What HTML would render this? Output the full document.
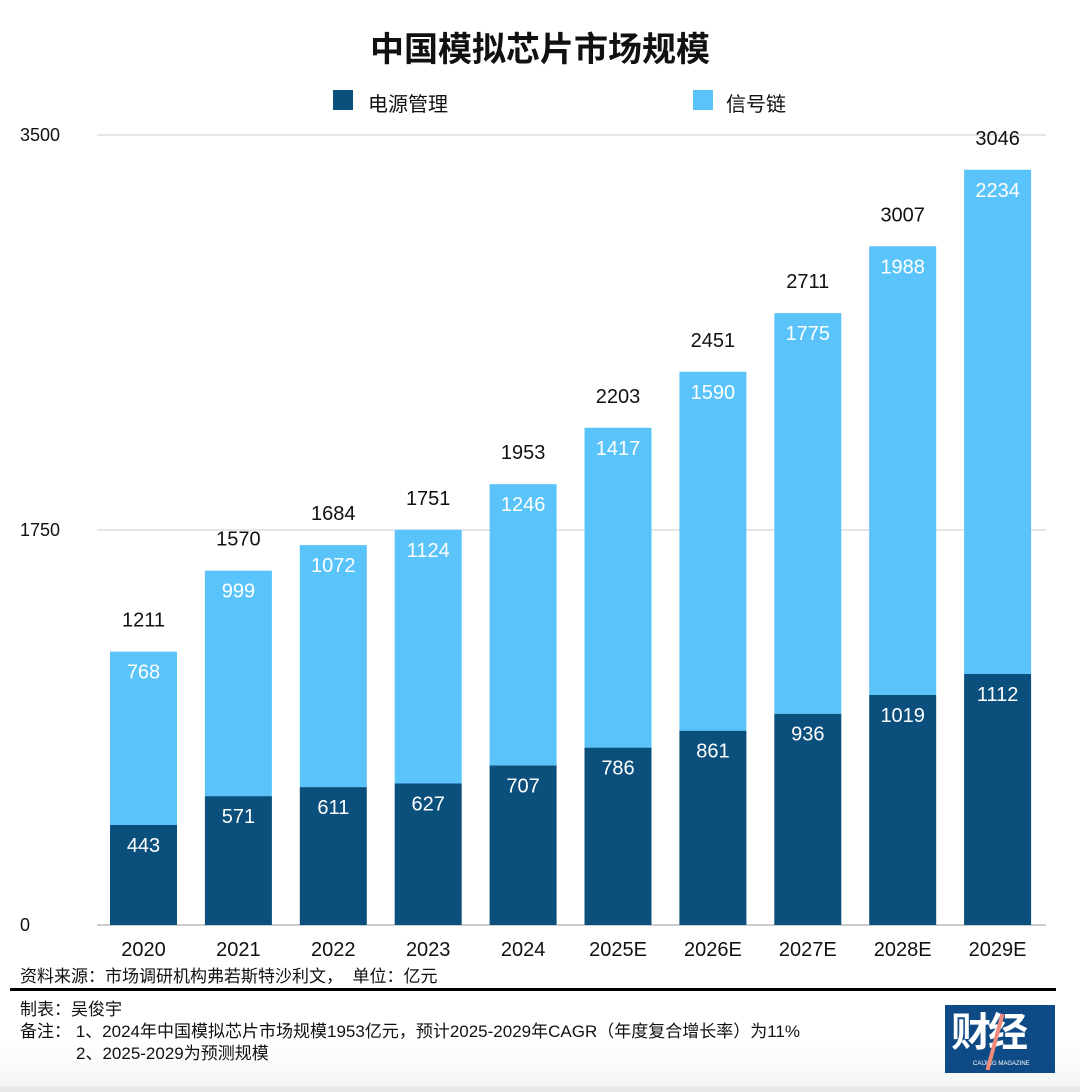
<!DOCTYPE html>
<html><head><meta charset="utf-8"><style>
body{margin:0;background:#fff;font-family:"Liberation Sans","Noto Sans CJK SC",sans-serif;}
#wrap{position:relative;width:1080px;height:1092px;overflow:hidden;background:linear-gradient(#fff 1040px,#f6f6f6 1085px,#e8e8e8 1088px);}
.t{position:absolute;white-space:nowrap;}
</style></head><body>
<div id="wrap">
<div class="t" style="left:0;width:1080px;text-align:center;top:22px;font-size:34px;font-weight:bold;color:#111;">中国模拟芯片市场规模</div>
<div style="position:absolute;left:333px;top:88px;height:24px;">
 <span style="position:absolute;left:0;top:2px;width:20px;height:20px;background:#0b4f7c"></span>
 <span class="t" style="left:35px;top:0;font-size:20px;color:#111">电源管理</span></div>
<div style="position:absolute;left:693px;top:88px;height:24px;">
 <span style="position:absolute;left:0;top:2px;width:20px;height:20px;background:#5ac4fa"></span>
 <span class="t" style="left:33px;top:0;font-size:20px;color:#111">信号链</span></div>
<svg id="chart" width="1080" height="1092" style="position:absolute;left:0;top:0"></svg>
<div class="t" style="left:20px;top:962px;font-size:17px;color:#111">资料来源：市场调研机构弗若斯特沙利文，&nbsp;&nbsp;单位：亿元</div>
<div style="position:absolute;left:10px;top:988px;width:1046px;height:3px;background:#000"></div>
<div class="t" style="left:20px;top:995px;font-size:17px;color:#111">制表：吴俊宇</div>
<div class="t" style="left:20px;top:1017px;font-size:17px;color:#111">备注：&nbsp;1、2024年中国模拟芯片市场规模1953亿元，预计2025-2029年CAGR（年度复合增长率）为11%</div>
<div class="t" style="left:76px;top:1039px;font-size:17px;color:#111">2、2025-2029为预测规模</div>
<div style="position:absolute;left:945px;top:1005px;width:110px;height:68px;background:#0e4a86;color:#fff;">
 <div class="t" style="left:6px;top:6px;font-size:40px;font-weight:bold;letter-spacing:-3px;line-height:44px">财经</div>
 <div class="t" style="left:28px;top:56px;font-size:6px">CAIJING MAGAZINE</div>
 <div style="position:absolute;left:48px;top:8px;width:4px;height:58px;background:#f08a7a;transform:rotate(15deg)"></div>
</div>
</div>
<script>
const categories=["2020","2021","2022","2023","2024","2025E","2026E","2027E","2028E","2029E"];
const powerValues=[443,571,611,627,707,786,861,936,1019,1112];
const signalValues=[768,999,1072,1124,1246,1417,1590,1775,1988,2234];
const totalValues=[1211,1570,1684,1751,1953,2203,2451,2711,3007,3046];
const yTicks=[0,1750,3500];
const svg=document.getElementById('chart');
const NS='http://www.w3.org/2000/svg';
const y0=925,yTop=135,yMax=3500;
function yScale(v){return y0-(v/yMax)*(y0-yTop);}
function xCenter(i){return 143.5+i*94.9;}
const bw=67;
function mk(tag,attrs,text){const e=document.createElementNS(NS,tag);for(const k in attrs)e.setAttribute(k,attrs[k]);if(text!==undefined)e.textContent=text;svg.appendChild(e);return e;}
yTicks.forEach(t=>{
 const l=mk('line',{x1:97,x2:1046,y1:yScale(t),y2:yScale(t),stroke:t===0?'#999':'#ccc','stroke-width':1});
 
 
 const tx=mk('text',{x:20,y:yScale(t)+6,'font-size':18,fill:'#111'},t);
 
 
});
categories.forEach((c,i)=>{
 const xc=xCenter(i),p=powerValues[i],s=signalValues[i],tot=totalValues[i];
 const yp=yScale(p),ys=yScale(p+s);
 const r1=mk('rect',{x:xc-bw/2,y:yp,width:bw,height:y0-yp,fill:'#0b4f7c'});
 
 
 const r2=mk('rect',{x:xc-bw/2,y:ys,width:bw,height:yp-ys,fill:'#5ac4fa'});
 
 
 const l1=mk('text',{x:xc,y:yp+27,'text-anchor':'middle','font-size':20,fill:'#fff'},p);
 
 
 const l2=mk('text',{x:xc,y:ys+27,'text-anchor':'middle','font-size':20,fill:'#fff'},s);
 
 
 const l3=mk('text',{x:xc,y:ys-25,'text-anchor':'middle','font-size':20,fill:'#111'},tot);
 
 
 const xl=mk('text',{x:xc,y:956,'text-anchor':'middle','font-size':20,fill:'#111'},c);
 
 
});
</script>
</body></html>
